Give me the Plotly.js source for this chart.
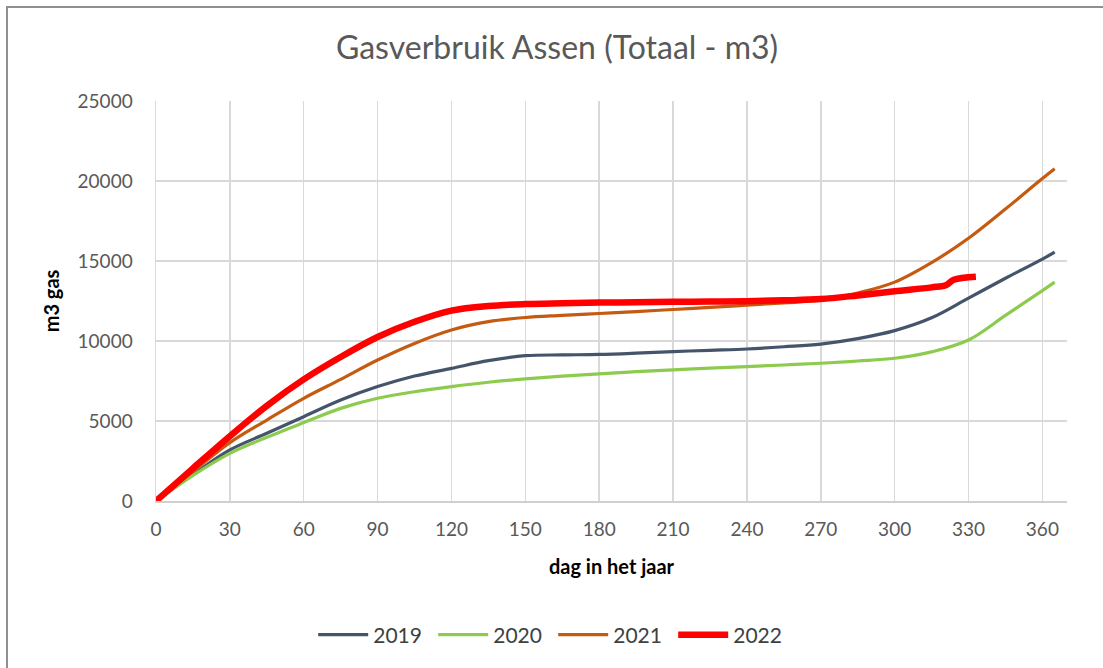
<!DOCTYPE html>
<html>
<head>
<meta charset="utf-8">
<script src="https://cdn.plot.ly/plotly-3.0.1.min.js"></script>
<style>
  html, body { margin: 0; padding: 0; background: #ffffff; }
  #frame { position: absolute; left: 6px; top: 6px; width: 1097px; height: 662px;
           border-left: 2px solid #8f8f8f; border-top: 2px solid #8f8f8f; pointer-events: none; z-index: 5; }
  #chart { position: absolute; left: 0; top: 0; width: 1103px; height: 668px; }
</style>
</head>
<body>
<div id="chart"></div>
<div id="frame"></div>
<script>
// Cumulative gas use (m3) by day of year
const days = [0, 15, 30, 45, 60, 75, 90, 105, 120, 135, 150, 165, 180, 195, 210, 225, 240, 255, 270, 285, 300, 315, 330, 345, 360, 365];
const y2019 = [0, 1650, 3190, 4230, 5270, 6310, 7150, 7810, 8290, 8770, 9080, 9130, 9160, 9240, 9340, 9420, 9500, 9640, 9810, 10150, 10650, 11450, 12680, 13920, 15120, 15550];
const y2020 = [0, 1600, 2980, 3980, 4900, 5790, 6420, 6830, 7150, 7420, 7630, 7800, 7950, 8080, 8200, 8300, 8400, 8500, 8610, 8750, 8920, 9320, 10060, 11600, 13150, 13680];
const y2021 = [0, 1850, 3650, 5060, 6420, 7600, 8810, 9850, 10690, 11210, 11470, 11600, 11720, 11840, 11970, 12100, 12240, 12380, 12550, 13000, 13680, 14900, 16420, 18250, 20150, 20760];

const days2022 = [0, 15, 30, 45, 60, 75, 90, 105, 120, 135, 150, 165, 180, 195, 210, 225, 240, 255, 270, 285, 300, 315, 321, 324, 333];
const y2022 = [0, 2040, 4050, 5950, 7600, 9000, 10250, 11200, 11900, 12190, 12310, 12360, 12400, 12420, 12450, 12470, 12490, 12540, 12620, 12850, 13110, 13350, 13500, 13830, 14020];

const seriesNames = ['2019', '2020', '2021', '2022'];
const colors = ['#44546A', '#8DCB4E', '#C55A11', '#FF0000'];

const xTicks = [0, 30, 60, 90, 120, 150, 180, 210, 240, 270, 300, 330, 360];
const yTicks = [0, 5000, 10000, 15000, 20000, 25000];

const FONT = "Lato, 'Liberation Sans', Arial, sans-serif";

const traces = [
  {x: days, y: y2019, name: seriesNames[0], line: {color: colors[0], width: 3.2}},
  {x: days, y: y2020, name: seriesNames[1], line: {color: colors[1], width: 3.2}},
  {x: days, y: y2021, name: seriesNames[2], line: {color: colors[2], width: 3.2}},
  {x: days2022, y: y2022, name: seriesNames[3], line: {color: colors[3], width: 6.5}}
].map(t => Object.assign({type: 'scatter', mode: 'lines', line: Object.assign(t.line, {shape: 'spline', smoothing: 1})}, t));

const layout = {
  width: 1103, height: 668,
  paper_bgcolor: '#ffffff', plot_bgcolor: '#ffffff',
  margin: {l: 156, r: 36, t: 101, b: 167},
  font: {family: FONT, color: '#595959'},
  title: {text: 'Gasverbruik Assen (Totaal - m3)', font: {family: FONT, size: 32, color: '#595959'},
          x: 0.505, xanchor: 'center', y: 0.928, yanchor: 'middle'},
  xaxis: {
    range: [0, 370], tickvals: xTicks, ticktext: xTicks.map(String),
    showgrid: true, gridcolor: '#d9d9d9', gridwidth: 1.5,
    showline: true, linecolor: '#d0d0d0', linewidth: 2,
    zeroline: false, ticks: '', ticklabelstandoff: 10,
    tickfont: {size: 19, color: '#595959', family: FONT},
    title: {text: '<b>dag in het jaar</b>', font: {size: 20, color: '#000000', family: FONT}, standoff: 21}
  },
  yaxis: {
    range: [0, 25000], tickvals: yTicks, ticktext: yTicks.map(String),
    showgrid: true, gridcolor: '#d9d9d9', gridwidth: 1.5,
    showline: true, linecolor: '#d9d9d9', linewidth: 1.5,
    zeroline: false, ticks: '', ticklabelstandoff: 18,
    tickfont: {size: 19, color: '#595959', family: FONT},
    title: {text: '<b>m3 gas</b>', font: {size: 20, color: '#000000', family: FONT}, standoff: 12}
  },
  showlegend: true,
  legend: {orientation: 'h', x: 0.436, xanchor: 'center', y: -0.335, yanchor: 'middle',
           font: {size: 21, color: '#404040', family: FONT}, traceorder: 'normal',
           itemwidth: 50, entrywidth: 55, entrywidthmode: 'pixels', bgcolor: 'rgba(0,0,0,0)'}
};

Plotly.newPlot('chart', traces, layout, {displayModeBar: false, staticPlot: true});
</script>
</body>
</html>
